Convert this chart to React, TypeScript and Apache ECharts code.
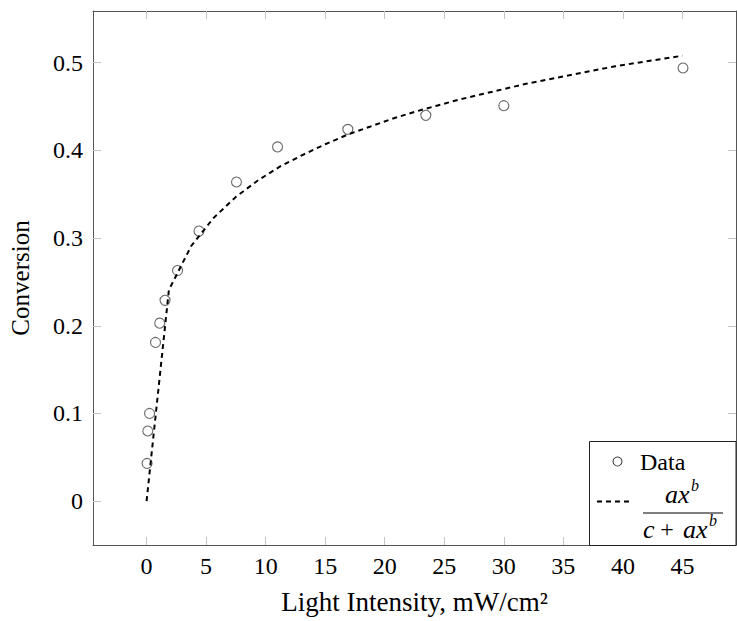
import React, { useEffect, useRef } from "react";
import * as echarts from "echarts";

const dataX = [0.04, 0.1, 0.25, 0.75, 1.1, 1.55, 2.6, 4.4, 7.55, 11.0, 16.9, 23.45, 30.0, 45.05];
const dataY = [0.043, 0.08, 0.1, 0.181, 0.203, 0.229, 0.263, 0.308, 0.364, 0.404, 0.424, 0.44, 0.451, 0.494];

const fitX = [0, 1.875, 3.75, 5.625, 7.5, 9.375, 11.25, 13.125, 15, 16.875, 18.75, 20.625, 22.5, 24.375, 26.25, 28.125, 30, 31.875, 33.75, 35.625, 37.5, 39.375, 41.25, 43.125, 45];
const fitY = [0, 0.241, 0.291, 0.323, 0.347, 0.366, 0.382, 0.395, 0.407, 0.418, 0.427, 0.436, 0.444, 0.451, 0.458, 0.464, 0.47, 0.476, 0.481, 0.486, 0.491, 0.496, 0.5, 0.504, 0.508];

const xTicks = [0, 5, 10, 15, 20, 25, 30, 35, 40, 45];
const yTicks = [0, 0.1, 0.2, 0.3, 0.4, 0.5];

const FONT = "'Liberation Serif', 'DejaVu Serif', serif";
const AXIS_COLOR = "#555";
const TICK_COLOR = "#c4c4c4";

export default function App() {
  const ref = useRef<HTMLDivElement>(null);
  useEffect(() => {
    const chart = echarts.init(ref.current!, null, { renderer: "svg" });
    const tickStyle = { show: true, inside: true, length: 8, lineStyle: { color: TICK_COLOR, width: 1 } };
    const axisLine = { show: true, onZero: false, lineStyle: { color: AXIS_COLOR, width: 1 } };
    const labelStyle = { color: "#000", fontFamily: FONT, fontSize: 24 };
    const option = {
      animation: false,
      backgroundColor: "#fff",
      grid: { left: 92, top: 11, right: 1, bottom: 76, containLabel: false },
      xAxis: [
        {
          type: "value",
          min: -4.5,
          max: 49.5,
          axisLine,
          axisTick: { ...tickStyle, customValues: xTicks },
          axisLabel: { ...labelStyle, margin: 9, customValues: xTicks, formatter: (v: number) => String(v) },
          splitLine: { show: false },
          name: "Light Intensity, mW/cm²",
          nameLocation: "middle",
          nameGap: 43,
          nameTextStyle: { color: "#000", fontFamily: FONT, fontSize: 27 },
        },
        {
          type: "value",
          position: "top",
          min: -4.5,
          max: 49.5,
          axisLine,
          axisTick: { ...tickStyle, customValues: xTicks },
          axisLabel: { show: false },
          splitLine: { show: false },
        },
      ],
      yAxis: [
        {
          type: "value",
          min: -0.05,
          max: 0.559,
          axisLine,
          axisTick: { ...tickStyle, customValues: yTicks },
          axisLabel: { ...labelStyle, margin: 10, customValues: yTicks, formatter: (v: number) => (v === 0 ? "0" : v.toFixed(1)) },
          splitLine: { show: false },
          name: "Conversion",
          nameLocation: "middle",
          nameGap: 60,
          nameTextStyle: { color: "#000", fontFamily: FONT, fontSize: 25 },
        },
        {
          type: "value",
          position: "right",
          min: -0.05,
          max: 0.559,
          axisLine,
          axisTick: { ...tickStyle, customValues: yTicks },
          axisLabel: { show: false },
          splitLine: { show: false },
        },
      ],
      series: [
        {
          name: "Data",
          type: "scatter",
          data: dataX.map((x, i) => [x, dataY[i]]),
          symbol: "circle",
          symbolSize: 10,
          itemStyle: { color: "rgba(0,0,0,0)", borderColor: "#444", borderWidth: 1.1 },
          z: 2,
        },
        {
          name: "fit",
          type: "line",
          data: fitX.map((x, i) => [x, fitY[i]]),
          showSymbol: false,
          symbol: "none",
          lineStyle: { color: "#000", width: 2, type: [5, 4] },
          z: 3,
        },
      ],
      graphic: [
        {
          type: "rect",
          z: 100,
          shape: { x: 589.5, y: 441.5, width: 146.5, height: 104 },
          style: { fill: "#fff", stroke: "#222", lineWidth: 1 },
        },
        {
          type: "circle",
          z: 101,
          shape: { cx: 617.5, cy: 461.5, r: 4.5 },
          style: { fill: "none", stroke: "#444", lineWidth: 1.1 },
        },
        {
          type: "text",
          z: 101,
          x: 640,
          y: 462,
          style: { text: "Data", fill: "#000", font: `24px ${FONT}`, verticalAlign: "middle", align: "left" },
        },
        {
          type: "line",
          z: 101,
          shape: { x1: 597, y1: 501.5, x2: 631, y2: 501.5 },
          style: { stroke: "#000", lineWidth: 2, lineDash: [5, 4] },
        },
        {
          type: "text",
          z: 101,
          x: 665,
          y: 494,
          style: { text: "ax", fill: "#000", font: `italic 26px ${FONT}`, verticalAlign: "middle", align: "left" },
        },
        {
          type: "text",
          z: 101,
          x: 691,
          y: 485,
          style: { text: "b", fill: "#000", font: `italic 16px ${FONT}`, verticalAlign: "middle", align: "left" },
        },
        {
          type: "line",
          z: 101,
          shape: { x1: 643, y1: 513, x2: 723, y2: 513 },
          style: { stroke: "#000", lineWidth: 1.2 },
        },
        {
          type: "text",
          z: 101,
          x: 643,
          y: 529,
          style: { text: "c", fill: "#000", font: `italic 26px ${FONT}`, verticalAlign: "middle", align: "left" },
        },
        {
          type: "text",
          z: 101,
          x: 667,
          y: 529,
          style: { text: "+", fill: "#000", font: `24px ${FONT}`, verticalAlign: "middle", align: "center" },
        },
        {
          type: "text",
          z: 101,
          x: 683,
          y: 529,
          style: { text: "ax", fill: "#000", font: `italic 26px ${FONT}`, verticalAlign: "middle", align: "left" },
        },
        {
          type: "text",
          z: 101,
          x: 709,
          y: 520,
          style: { text: "b", fill: "#000", font: `italic 16px ${FONT}`, verticalAlign: "middle", align: "left" },
        },
      ],
    };
    chart.setOption(option as any);
    return () => chart.dispose();
  }, []);
  return <div ref={ref} style={{ position: "fixed", left: 0, top: 0, width: 737, height: 621 }} />;
}
